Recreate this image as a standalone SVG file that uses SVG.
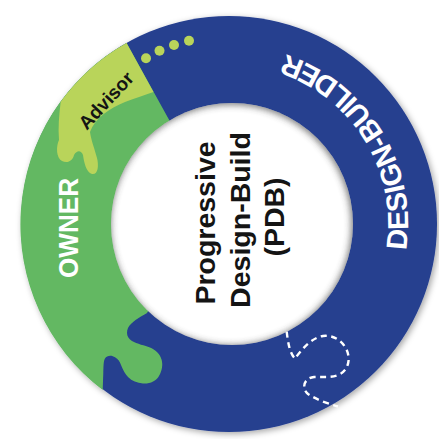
<svg xmlns="http://www.w3.org/2000/svg" width="439" height="439" viewBox="0 0 439 439">
  <defs>
    <style>
      .bold { font-family: "Liberation Sans", Arial, sans-serif; font-weight: bold; }
      .white { fill: #ffffff; }
      .dark { fill: #141414; }
      .dot { fill: #b9d45a; }
    </style>
    <filter id="ds" x="-10%" y="-10%" width="120%" height="120%">
      <feDropShadow dx="2" dy="2" stdDeviation="3" flood-color="#000" flood-opacity="0.35"/>
    </filter>
    <filter id="blur" x="-20%" y="-20%" width="140%" height="140%">
      <feGaussianBlur stdDeviation="3.5"/>
    </filter>
    <clipPath id="hole">
      <circle cx="232" cy="224" r="121"/>
    </clipPath>
    <path id="arcDB" d="M397.2,285.2 A179,179 0 0 0 250.8,46.3"/>
  </defs>
  <rect width="439" height="439" fill="#ffffff"/>

  <g id="ring" filter="url(#ds)">
    <g id="design-builder">
      <circle cx="229" cy="224" r="208" fill="#253f8f"/>
    </g>
    <g id="owner">
      <path fill="#63b862" d="M126.6,42.9 A208,208 0 0 0 102.7,390 L103.3,373.3 C103.5,366 103.5,361 105,358.5 C107,355 112,355 115,357.3 C118,359 120,362 121,365 C123,370 125,374 128,377 C132,381 137,383 143,383.5 C150,384 156,381 159,376 C162,371 163,365 161.7,360 C160,354 156,350 150,347.5 C145,345.5 137,344 132,341 C127,338 126,333 128,328 C131,322 140,317 146.7,313.3 L165,290 L125,224 L175,130.4 Z"/>
    </g>
    <g id="advisor">
      <path fill="#b9d45a" d="M126.6,42.9 A208,208 0 0 0 60.7,101.7 C59,115 58,128 59,140 C56,146 56,158 62,161 C68,164 73,160 74,155 C77,150 81,150 83,155 C84,162 86,172 92,174 C98,175 99,166 97,158 C95,150 91,140 90,132 C95,118 110,108 125,102 C135,98 145,95 153.5,92 Z"/>
    </g>
  </g>

  <g id="center">
    <circle cx="232" cy="224" r="121" fill="#ffffff"/>
    <g clip-path="url(#hole)">
      <circle cx="231" cy="225" r="125" fill="none" stroke="#3a3a3a" stroke-width="9" filter="url(#blur)" opacity="0.7"/>
    </g>
  </g>

  <g id="dots">
    <circle class="dot" cx="146" cy="58.3" r="5"/>
    <circle class="dot" cx="159.5" cy="50.7" r="5"/>
    <circle class="dot" cx="174" cy="45" r="5"/>
    <circle class="dot" cx="189" cy="40.7" r="5"/>
  </g>

  <g id="connectors">
    <path d="M286.7,331.7 C288,343 290,354 295,358.5 C300,352 310,338 323,336 C338,334 350,348 348.5,361 C347,374 336,377 326,377 L314,377 C304,378 301,388 308,394 C317,400 329,404 338,406.5" fill="none" stroke="#ffffff" stroke-width="2.4" stroke-dasharray="6 4.5" stroke-linecap="butt"/>
  </g>

  <g id="labels">
    <text class="bold white" font-size="28" text-anchor="middle" textLength="100" lengthAdjust="spacingAndGlyphs" transform="translate(78,228) rotate(-90)">OWNER</text>
    <text class="bold dark" font-size="19" text-anchor="middle" transform="translate(110.8,105) rotate(-47)">Advisor</text>
    <text class="bold white" font-size="29"><textPath href="#arcDB" startOffset="50%" text-anchor="middle">DESIGN-BUILDER</textPath></text>
    <text class="bold dark" font-size="28.5" text-anchor="middle" transform="translate(215,223) rotate(-90)">Progressive</text>
    <text class="bold dark" font-size="28.5" text-anchor="middle" transform="translate(250,220) rotate(-90)">Design-Build</text>
    <text class="bold dark" font-size="28.5" text-anchor="middle" transform="translate(284,217) rotate(-90)">(PDB)</text>
  </g>
</svg>
